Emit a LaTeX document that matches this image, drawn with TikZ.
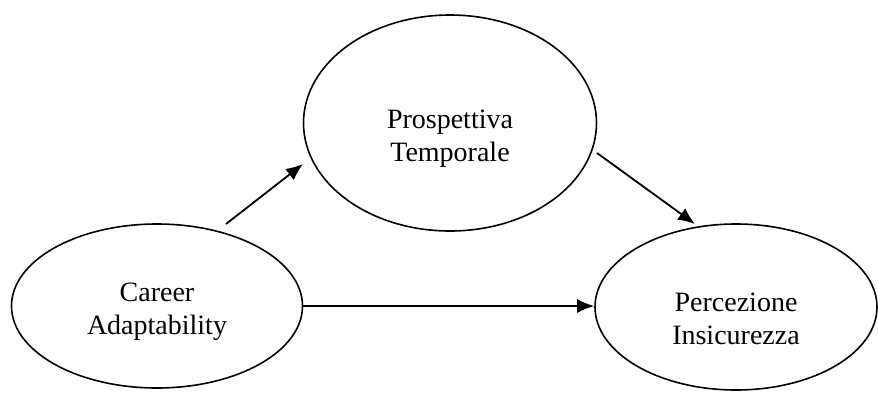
\documentclass[tikz,border=0pt]{standalone}
\usepackage{fontspec}
\setmainfont{Liberation Serif}
\usetikzlibrary{shapes.geometric,arrows.meta}
\begin{document}
\begin{tikzpicture}[
            x=1pt, y=1pt,
            font=\fontsize{28}{33}\selectfont,
            varellipse/.style={ellipse, draw=black, line width=1.6pt, inner sep=0pt},
            vartext/.style={align=center, inner sep=0pt},
            patharrow/.style={-{Latex[length=17pt,width=14pt]}, line width=1.8pt}
        ]
        \useasboundingbox (0,0) rectangle (878,-392);

        %Variables

        \node[varellipse, minimum width=293pt, minimum height=216pt] (prosp) at (450,-123) {};
        \node[varellipse, minimum width=291pt, minimum height=164pt] (career) at (157,-306) {};
        \node[varellipse, minimum width=282pt, minimum height=166pt] (perc) at (736,-307) {};

        \node[vartext] (prosp_text) at ([yshift=-16pt]prosp.center) {Prospettiva\\Temporale};
        \node[vartext] (career_text) at ([yshift=-6pt]career.center) {Career\\Adaptability};
        \node[vartext] (perc_text) at ([yshift=-12pt]perc.center) {Percezione\\Insicurezza};

        %Paths

        \draw[patharrow] ([shift={(69pt,82pt)}]career.center) -- ([shift={(-147pt,-41pt)}]prosp.center);
        \draw[patharrow] ([shift={(147pt,-30pt)}]prosp.center) -- ([shift={(-41pt,83pt)}]perc.center);
        \draw[patharrow] (career.east) -- (career.east -| perc.west);

    \end{tikzpicture}
\end{document}
